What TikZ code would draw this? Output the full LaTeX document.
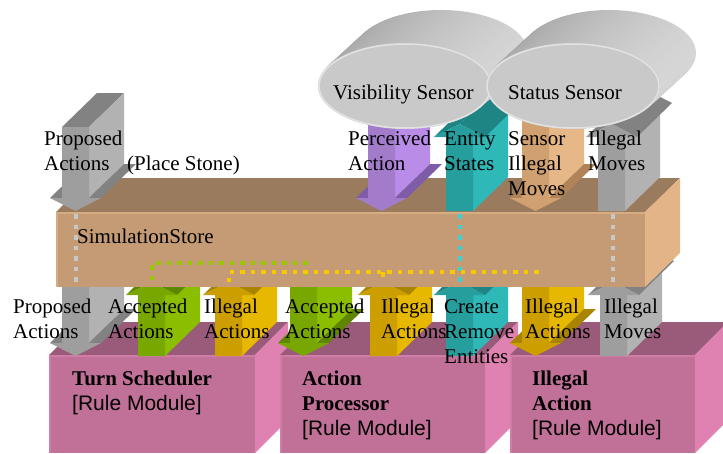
\documentclass[tikz,border=0pt]{standalone}
\usepackage{fontspec}
\setmainfont{Liberation Serif}
\setsansfont{Liberation Sans}
\definecolor{gryF}{HTML}{9E9E9E}\definecolor{gryS}{HTML}{B2B2B2}\definecolor{gryT}{HTML}{828282}
\definecolor{purF}{HTML}{A27CCB}\definecolor{purS}{HTML}{B98CE8}\definecolor{purT}{HTML}{7E5CA8}
\definecolor{teaF}{HTML}{269E9E}\definecolor{teaS}{HTML}{2EB8B8}\definecolor{teaT}{HTML}{1E8484}
\definecolor{tanF}{HTML}{D0A070}\definecolor{tanS}{HTML}{E6B888}\definecolor{tanT}{HTML}{B08458}
\definecolor{grnF}{HTML}{78A800}\definecolor{grnS}{HTML}{8CBE00}\definecolor{grnT}{HTML}{5E8600}
\definecolor{yelF}{HTML}{CC9E00}\definecolor{yelS}{HTML}{E6B800}\definecolor{yelT}{HTML}{A88400}
\definecolor{stF}{HTML}{C49B74}\definecolor{stT}{HTML}{9B7B5D}\definecolor{stR}{HTML}{E2B487}\definecolor{stB}{HTML}{D6AC82}
\definecolor{modF}{HTML}{C17198}\definecolor{modT}{HTML}{9A5B7B}\definecolor{modR}{HTML}{DF82B1}\definecolor{modB}{HTML}{CF7CA6}
\definecolor{sensL}{HTML}{A6A6A6}\definecolor{sensR}{HTML}{D6D6D6}\definecolor{sensF}{HTML}{C9C9C9}\definecolor{sensRim}{HTML}{E2E2E2}
\definecolor{dotG}{HTML}{C8C8C8}\definecolor{dotGr}{HTML}{96C800}\definecolor{dotY}{HTML}{F8C800}\definecolor{dotT}{HTML}{40D0D0}
% down arrow: x, shaft top, head base, tip, colour prefix
\newcommand\DArr[5]{%
  \fill[#5T] (#1-12,#3) -- (#1,#3) -- (#1+35,#3-34) -- (#1+23,#3-34) -- cycle;
  \fill[#5T] (#1,#2) -- (#1+27,#2) -- (#1+62,#2-34) -- (#1+35,#2-34) -- cycle;
  \fill[#5S] (#1+27,#2) -- (#1+27,#3) -- (#1+62,#3-34) -- (#1+62,#2-34) -- cycle;
  \fill[#5T] (#1+27,#3) -- (#1+39,#3) -- (#1+74,#3-34) -- (#1+62,#3-34) -- cycle;
  \fill[#5F] (#1,#2) -- (#1+27,#2) -- (#1+27,#3) -- (#1+39,#3) -- (#1+13.5,#4) -- (#1-12,#3) -- (#1,#3) -- cycle;}
% up arrow: x, tip, head base, shaft bottom, colour prefix
\newcommand\UArr[5]{%
  \fill[#5S] (#1+27,#3) -- (#1+27,#4) -- (#1+62,#4-34) -- (#1+62,#3-34) -- cycle;
  \fill[#5T] (#1-12,#3) -- (#1+13.5,#2) -- (#1+48.5,#2-34) -- (#1+23,#3-34) -- cycle;
  \fill[#5T] (#1+13.5,#2) -- (#1+39,#3) -- (#1+74,#3-34) -- (#1+48.5,#2-34) -- cycle;
  \fill[#5F] (#1+13.5,#2) -- (#1+39,#3) -- (#1+27,#3) -- (#1+27,#4) -- (#1,#4) -- (#1,#3) -- (#1-12,#3) -- cycle;}
\newcommand\ModBox[2]{%
  \fill[modT] (#1,355) -- (#2,355) -- (#2+33,322) -- (#1+33,322) -- cycle;
  \fill[modR] (#2,355) -- (#2+33,322) -- (#2+33,420) -- (#2,453) -- cycle;
  \fill[modF] (#1,355) rectangle (#2,453);
  \draw[modB, line width=1.5pt] (#1+0.75,453) -- (#1+0.75,355.75) -- (#2,355.75);}
\newcommand\Sensor[2]{%
  \foreach \i in {36,35,...,1} {\shade[left color=sensL, right color=sensR] (#1+\i,#2-\i*33/36) ellipse [x radius=87pt, y radius=43pt];}
  \fill[sensF] (#1,#2) ellipse [x radius=87pt, y radius=43pt];
  \draw[sensRim, line width=1.5pt] (#1,#2) ellipse [x radius=86pt, y radius=42pt];}
\tikzset{
  lbl/.style={anchor=north west, inner sep=0pt, align=left, font=\fontsize{21}{25}\selectfont},
  dots/.style={line width=4.5pt, dash pattern=on 4.5pt off 6pt},
}
\begin{document}
\begin{tikzpicture}[x=1pt,y=-1pt]
\useasboundingbox (0,0) rectangle (723,453);
% rule modules
\ModBox{49}{255}
\ModBox{280}{485}
\ModBox{510}{695}
% lower arrows
\DArr{62}{287}{343}{356}{gry}
\UArr{138}{282}{295}{356}{grn}
\UArr{215}{282}{295}{356}{yel}
\DArr{290}{287}{343}{356}{grn}
\UArr{370}{282}{295}{356}{yel}
\UArr{446}{282}{295}{356}{tea}
\DArr{522}{287}{343}{356}{yel}
\UArr{600}{282}{295}{356}{gry}
% simulation store
\fill[stT] (56,212) -- (645,212) -- (680,178) -- (91,178) -- cycle;
\fill[stR] (645,212) -- (680,178) -- (680,253) -- (645,287) -- cycle;
\fill[stF] (56,212) rectangle (645,287);
\draw[stB, line width=1.5pt] (56.75,287) -- (56.75,212.75) -- (645,212.75);
% dotted links inside the store
\draw[dots, dotG] (76,214) -- (76,284);
\draw[dots, dotG] (613,214) -- (613,284);
\draw[dots, dotT] (460,214) -- (460,284);
\draw[dots, dotGr] (152,280) -- (152,263) -- (306,263) -- (306,280);
\draw[dots, dotY] (229,282) -- (229,272) -- (537,272) -- (537,279);
\draw[dots, dotY] (383,272) -- (383,282);
% upper arrows
\DArr{62}{127}{198}{211}{gry}
\DArr{368}{110}{198}{211}{pur}
\UArr{446}{124}{137}{211}{tea}
\DArr{522}{110}{198}{211}{tan}
\UArr{598}{124}{137}{211}{gry}
% sensors
\Sensor{405}{86}
\Sensor{573}{86}
% labels
\node[lbl] (vs) at (333,81.5) {\strut Visibility Sensor};
\node[lbl] (ss) at (508,81.5) {\strut Status Sensor};
\node[lbl] (pa1) at (44,127.5) {\strut Proposed\\Actions};
\node[lbl] (ps) at (127,152.5) {\strut (Place Stone)};
\node[lbl] (pera) at (348,127.5) {\strut Perceived\\Action};
\node[lbl] (es) at (444,127.5) {\strut Entity\\States};
\node[lbl] (sim) at (508,127.5) {\strut Sensor\\Illegal\\Moves};
\node[lbl] (im1) at (588,127.5) {\strut Illegal\\Moves};
\node[lbl] (store) at (77,225.5) {\strut SimulationStore};
\node[lbl] (pa2) at (13,295.5) {\strut Proposed\\Actions};
\node[lbl] (aa1) at (108,295.5) {\strut Accepted\\Actions};
\node[lbl] (ia1) at (204,295.5) {\strut Illegal\\Actions};
\node[lbl] (aa2) at (285,295.5) {\strut Accepted\\Actions};
\node[lbl] (ia2) at (381,295.5) {\strut Illegal\\Actions};
\node[lbl] (cre) at (444,295.5) {\strut Create\\Remove\\Entities};
\node[lbl] (ia3) at (525,295.5) {\strut Illegal\\Actions};
\node[lbl] (im2) at (604,295.5) {\strut Illegal\\Moves};
\node[lbl] (ts) at (72,367.5) {\strut\textbf{Turn Scheduler}\\\sffamily [Rule Module]};
\node[lbl] (ap) at (302,367.5) {\strut\textbf{Action}\\\textbf{Processor}\\\sffamily [Rule Module]};
\node[lbl] (iam) at (532,367.5) {\strut\textbf{Illegal}\\\textbf{Action}\\\sffamily [Rule Module]};
\end{tikzpicture}
\end{document}
